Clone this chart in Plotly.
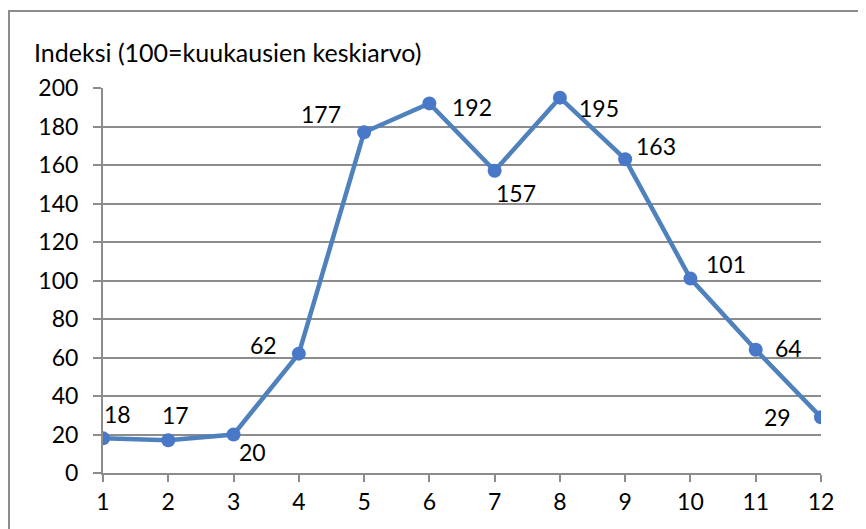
import plotly.graph_objects as go

months = list(range(1, 13))
month_labels = [str(m) for m in months]
index_values = [18, 17, 20, 62, 177, 192, 157, 195, 163, 101, 64, 29]
y_ticks = list(range(0, 201, 20))
title_text = "Indeksi (100=kuukausien keskiarvo)"

# label offsets (pixels) per point, styling only
offsets = [(14, 24), (7, 25), (19, -17), (-35, 9), (-43, 18), (43, -4),
           (21, -22), (39, -10), (31, 13), (36, 15), (33, 2), (-44, 0)]

FONT = "Lato, Carlito, Calibri, sans-serif"
LINE = "#4F81BD"
MARK = "#4A78C9"

fig = go.Figure()
fig.add_trace(go.Scatter(
    x=months, y=index_values, mode="lines+markers",
    line=dict(color=LINE, width=4.5),
    marker=dict(color=MARK, size=14),
    hoverinfo="x+y", showlegend=False,
))

for m, v, (dx, dy) in zip(months, index_values, offsets):
    fig.add_annotation(x=m, y=v, text=str(v), showarrow=False,
                       xshift=dx, yshift=dy,
                       font=dict(family=FONT, size=23, color="#000"))

# page body has an 8px margin; figure sized to fit the 866x529 window
W, H = 858, 521
L, R, T, B = 95, 45, 80, 56
pw, ph = W - L - R, H - T - B

fig.add_annotation(xref="paper", yref="paper",
                   x=(24 - L) / pw, y=1 + (T - 44) / ph,
                   xanchor="left", yanchor="middle", showarrow=False,
                   text=title_text, font=dict(family=FONT, size=25, color="#000"))

fig.add_shape(type="rect", xref="paper", yref="paper",
              x0=(1 - L) / pw, x1=(880 - L) / pw,
              y0=-(B + 20) / ph, y1=1 + (T - 3) / ph,
              line=dict(color="#8C8C8C", width=2), fillcolor="rgba(0,0,0,0)",
              layer="below")

fig.update_layout(
    width=W, height=H,
    margin=dict(l=L, r=R, t=T, b=B),
    paper_bgcolor="white", plot_bgcolor="white",
    font=dict(family=FONT, size=23, color="#000"),
    xaxis=dict(range=[1, 12], tickvals=months, ticktext=month_labels,
               showgrid=False, zeroline=False,
               showline=True, linecolor="#8C8C8C", linewidth=2,
               ticks="outside", ticklen=7, tickwidth=2, tickcolor="#8C8C8C",
               tickfont=dict(family=FONT, size=23, color="#000")),
    yaxis=dict(range=[0, 200], tickvals=y_ticks,
               showgrid=True, gridcolor="#8C8C8C", gridwidth=2,
               zeroline=False,
               showline=True, linecolor="#8C8C8C", linewidth=2,
               ticks="outside", ticklen=8, tickwidth=2, tickcolor="#8C8C8C",
               ticklabelstandoff=10,
               tickfont=dict(family=FONT, size=23, color="#000")),
)

fig.write_html("out.html")
